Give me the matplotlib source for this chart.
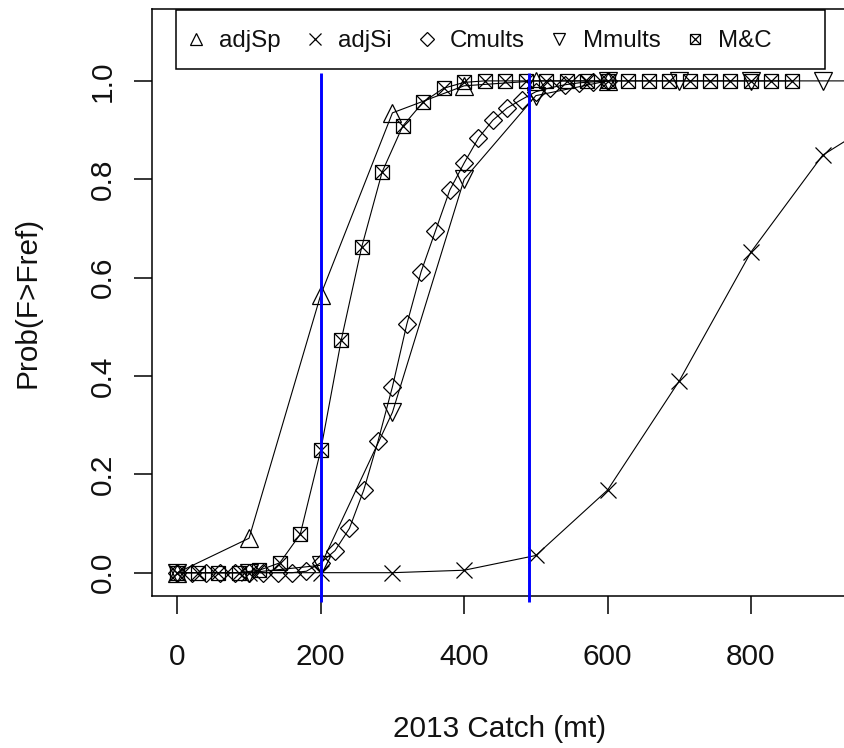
import matplotlib
matplotlib.use("Agg")
import matplotlib.pyplot as plt
from matplotlib.lines import Line2D
from matplotlib.patches import Rectangle
from matplotlib.legend_handler import HandlerTuple

plt.rcParams['font.family'] = ['Liberation Sans', 'DejaVu Sans']

# ---------------- data ----------------
adjsp_x = [0, 100, 200, 300, 400, 500, 600]
adjsp_y = [0.0, 0.07, 0.565, 0.935, 0.99, 1.0, 1.0]

adjsi_x = [0, 100, 200, 300, 400, 500, 600, 700, 800, 900, 1000]
adjsi_y = [0.0, 0.0, 0.0, 0.0, 0.005, 0.035, 0.168, 0.39, 0.652, 0.849, 0.94]

cmults_x = [0, 20, 40, 60, 80, 100, 120, 140, 160, 180, 200, 220, 240, 260, 280, 300,
            320, 340, 360, 380, 400, 420, 440, 460, 480, 500, 520, 540, 560, 580, 600]
cmults_y = [0.0, 0.0, 0.0, 0.0, 0.0, 0.0, 0.0, 0.0, 0.0, 0.003, 0.02, 0.045, 0.09, 0.168,
            0.268, 0.378, 0.505, 0.612, 0.695, 0.778, 0.833, 0.884, 0.92, 0.945, 0.962,
            0.978, 0.986, 0.992, 0.996, 0.998, 1.0]

mmults_x = [0, 100, 200, 300, 400, 500, 600, 700, 800, 900, 1000]
mmults_y = [0.0, 0.0, 0.015, 0.326, 0.80, 0.97, 1.0, 1.0, 1.0, 1.0, 1.0]

mc_x = [0, 28.6, 57.1, 85.7, 114.3, 142.9, 171.4, 200, 228.6, 257.1, 285.7, 314.3,
        342.9, 371.4, 400, 428.6, 457.1, 485.7, 514.3, 542.9, 571.4, 600, 628.6,
        657.1, 685.7, 714.3, 742.9, 771.4, 800, 828.6, 857.1]
mc_y = [0.0, 0.0, 0.0, 0.0, 0.005, 0.02, 0.078, 0.249, 0.473, 0.662, 0.815, 0.908,
        0.957, 0.985, 0.997, 1.0, 1.0, 1.0, 1.0, 1.0, 1.0, 1.0, 1.0, 1.0, 1.0, 1.0,
        1.0, 1.0, 1.0, 1.0, 1.0]

ref_catch = [200, 490]
ref_span = [-0.06, 1.017]

legend_labels = ["adjSp", "adjSi", "Cmults", "Mmults", "M&C"]
x_ticks = [0, 200, 400, 600, 800]
y_ticks = [0.0, 0.2, 0.4, 0.6, 0.8, 1.0]
y_ticklabels = ["0.0", "0.2", "0.4", "0.6", "0.8", "1.0"]

# ---------------- figure ----------------
W, H = 844, 748
fig = plt.figure(figsize=(W / 100, H / 100), dpi=100)
left_px, right_px, top_px, bot_px = 151.5, 848.5, 8.6, 595.8
ax = fig.add_axes([left_px / W, 1 - bot_px / H, (right_px - left_px) / W, (bot_px - top_px) / H])
ax.set_xlim(-36, 936)
ax.set_ylim(-0.047, 1.147)

lw = 0.8
common = dict(color='black', lw=lw, mfc='none', mec='black', mew=0.9)
ax.plot(adjsp_x, adjsp_y, marker='^', ms=13, **common)
ax.plot(adjsi_x, adjsi_y, marker='x', ms=12, **common)
ax.plot(cmults_x, cmults_y, marker='D', ms=9.5, **common)
ax.plot(mmults_x, mmults_y, marker='v', ms=13, **common)
ax.plot(mc_x, mc_y, marker='s', ms=10.5, **common)
ax.plot(mc_x, mc_y, ls='none', marker='x', ms=10.5, mec='black', mew=0.9)

for xv in ref_catch:
    ax.plot([xv, xv], ref_span, color=(0, 0, 1), lw=2.1, clip_on=False, zorder=5,
            solid_capstyle='butt')

# axes styling
for s in ax.spines.values():
    s.set_linewidth(1.1)
ax.set_xticks(x_ticks)
ax.set_xticklabels([str(v) for v in x_ticks])
ax.set_yticks(y_ticks)
ax.set_yticklabels(y_ticklabels, rotation=90, va='center')
ax.tick_params(axis='both', length=13, width=1.1, labelsize=21.4, color='black',
               labelcolor='#111111')
ax.tick_params(axis='x', pad=21)
ax.tick_params(axis='y', pad=12)

ax.set_xlabel("2013 Catch (mt)", fontsize=21.4, color='#111111')
ax.xaxis.set_label_coords(0.5, (bot_px - 729) / (bot_px - top_px))
ax.xaxis.label.set_va('center')
ax.set_ylabel("Prob(F>Fref)", fontsize=21.4, color='#111111')
ax.yaxis.set_label_coords((28 - left_px) / (right_px - left_px), 0.5)
ax.yaxis.label.set_va('center')

# legend box
lx0, lx1, ly0, ly1 = 175.7, 825, 10, 69
box = Rectangle((lx0 / W, 1 - ly1 / H), (lx1 - lx0) / W, (ly1 - ly0) / H,
                transform=fig.transFigure, facecolor='white', edgecolor='black',
                lw=1.1, zorder=4)
fig.add_artist(box)

kw = dict(ls='none', mfc='none', mec='black', mew=0.9)
h1 = Line2D([], [], marker='^', ms=9, **kw)
h2 = Line2D([], [], marker='x', ms=8, **kw)
h3 = Line2D([], [], marker='D', ms=7, **kw)
h4 = Line2D([], [], marker='v', ms=9, **kw)
h5a = Line2D([], [], marker='s', ms=7.5, **kw)
h5b = Line2D([], [], marker='x', ms=7.5, **kw)
fs = 17.4
em = fs * 100 / 72
handle_px = 0.8 * em
leg = fig.legend([h1, h2, h3, h4, (h5a, h5b)], legend_labels,
                 handler_map={tuple: HandlerTuple(ndivide=1)},
                 loc='center left', ncol=5,
                 bbox_to_anchor=((196 - handle_px / 2) / W, 1 - 41 / H),
                 borderaxespad=0, borderpad=0, fontsize=fs, handlelength=0.8,
                 handletextpad=13.4 / em, columnspacing=25 / em, frameon=False,
                 labelcolor='#111111')
leg.set_zorder(6)

fig.savefig("out.png", dpi=100)
